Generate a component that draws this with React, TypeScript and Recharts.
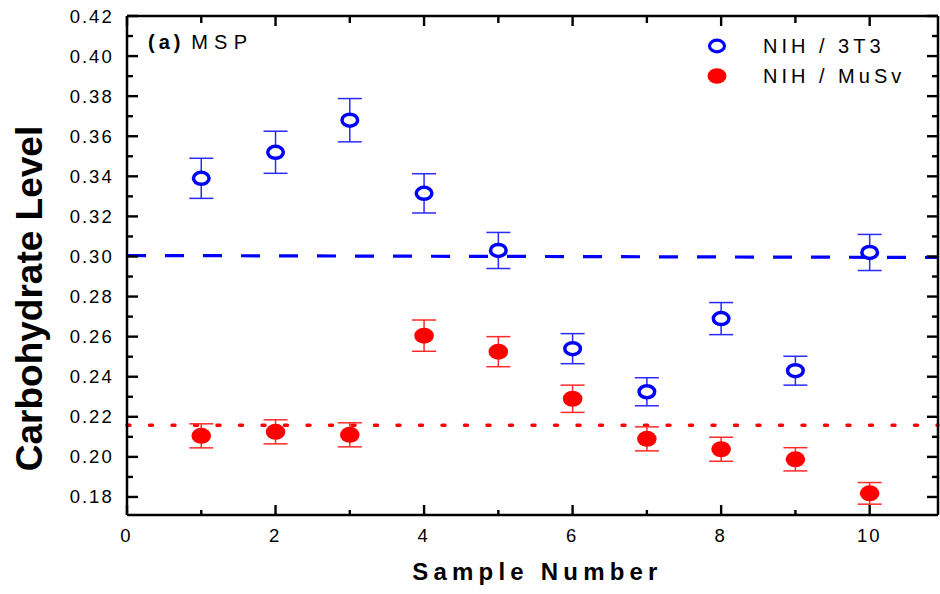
import React from 'react';
import { ScatterChart, Scatter, XAxis, YAxis, ErrorBar, ReferenceLine, Legend, Label } from 'recharts';

const samples = [1, 2, 3, 4, 5, 6, 7, 8, 9, 10];
const nih3t3 = [0.339, 0.352, 0.368, 0.3315, 0.303, 0.254, 0.2325, 0.269, 0.243, 0.302];
const nih3t3Err = [0.01, 0.0105, 0.0108, 0.0098, 0.009, 0.0075, 0.007, 0.008, 0.0072, 0.009];
const nihMusv = [0.2105, 0.2125, 0.211, 0.2605, 0.2525, 0.229, 0.209, 0.2038, 0.1988, 0.1818];
const nihMusvErr = [0.006, 0.006, 0.006, 0.0078, 0.0075, 0.0068, 0.006, 0.006, 0.0058, 0.0054];
const xTicks = [0, 1, 2, 3, 4, 5, 6, 7, 8, 9, 10];
const yTicks = [0.18, 0.19, 0.2, 0.21, 0.22, 0.23, 0.24, 0.25, 0.26, 0.27, 0.28, 0.29, 0.3, 0.31, 0.32, 0.33, 0.34, 0.35, 0.36, 0.37, 0.38, 0.39, 0.4, 0.41, 0.42];
const xDomain = [0, 10.92];
const yDomain = [0.171, 0.42];
const ref3t3Ends = [0.3005, 0.2995];
const refMusv = 0.2158;

const FONT = '"Liberation Sans", Arial, Helvetica, sans-serif';
const BLUE = '#0000ff';
const RED = '#ff0000';

const data3t3 = samples.map((s, i) => ({ x: s, y: nih3t3[i], err: nih3t3Err[i] }));
const dataMusv = samples.map((s, i) => ({ x: s, y: nihMusv[i], err: nihMusvErr[i] }));

const AXIS_LINE = { stroke: '#000', strokeWidth: 2.5 };
const TW = 2.4; // tick thickness
const TS = 1; // recharts tickSize (explicit, non-zero)
const TM = 1; // recharts tickMargin (explicit, non-zero)
const OFF = TS + TM; // distance from the tick-label anchor back to the axis line

const isMajorY = (v: number) => Math.round(v * 100) % 2 === 0;
const isMajorX = (v: number) => Math.round(v) % 2 === 0;

const YTickLeft = (props: any) => {
  const v = Number(props.payload.value);
  const ax = props.x + OFF;
  const major = isMajorY(v);
  const len = major ? 11 : 6;
  return (
    <g>
      <rect x={ax} y={props.y - TW / 2} width={len} height={TW} fill="#000" />
      {major && (
        <text x={ax - 13.3} y={props.y + 6.5} textAnchor="end" fontSize={18.5} letterSpacing={2} fontFamily={FONT} fill="#000">
          {v.toFixed(2)}
        </text>
      )}
    </g>
  );
};

const YTickRight = (props: any) => {
  const ax = props.x - OFF;
  const len = isMajorY(Number(props.payload.value)) ? 11 : 6;
  return <rect x={ax - len} y={props.y - TW / 2} width={len} height={TW} fill="#000" />;
};

const XTickBottom = (props: any) => {
  const v = Number(props.payload.value);
  const ay = props.y - OFF;
  const major = isMajorX(v);
  const len = major ? 10 : 5;
  return (
    <g>
      <rect x={props.x - TW / 2} y={ay - len} width={TW} height={len} fill="#000" />
      {major && (
        <text x={props.x - 0.5} y={ay + 26.5} textAnchor="middle" fontSize={18.5} letterSpacing={2} fontFamily={FONT} fill="#000">
          {v}
        </text>
      )}
    </g>
  );
};

const XTickTop = (props: any) => {
  const ay = props.y + OFF;
  const len = isMajorX(Number(props.payload.value)) ? 10 : 7;
  return <rect x={props.x - TW / 2} y={ay} width={TW} height={len} fill="#000" />;
};

const OpenMarker = (props: any) => (
  <ellipse cx={props.cx} cy={props.cy} rx={7.8} ry={6} fill="#fff" stroke={BLUE} strokeWidth={3.5} />
);
const FilledMarker = (props: any) => (
  <ellipse cx={props.cx} cy={props.cy} rx={9.8} ry={8} fill={RED} stroke="none" />
);

const YLabel = (props: any) => {
  const vb = props.viewBox;
  const cx = vb.x + 42;
  const cy = vb.y + vb.height / 2 + 33;
  return (
    <text x={cx} y={cy} transform={`rotate(-90 ${cx} ${cy})`} textAnchor="middle" fontSize={37} fontWeight="bold" fontFamily={FONT} fill="#000">
      Carbohydrate Level
    </text>
  );
};

const XLabel = (props: any) => {
  const vb = props.viewBox;
  const cx = vb.x + vb.width / 2 + 5;
  const cy = vb.y + 65;
  return (
    <text x={cx} y={cy} textAnchor="middle" fontSize={24} fontWeight="bold" letterSpacing={5.2} fontFamily={FONT} fill="#000">
      Sample Number
    </text>
  );
};

const LegendContent = (props: any) => {
  const { payload } = props;
  return (
    <div style={{ fontFamily: FONT, fontSize: 20, letterSpacing: 4, color: '#000' }}>
      {(payload || []).map((entry: any, i: number) => (
        <div key={i} style={{ display: 'flex', alignItems: 'center', height: 30 }}>
          <svg width={24} height={20} style={{ display: 'block' }}>
            {i === 0 ? (
              <ellipse cx={12} cy={10} rx={7.5} ry={5.8} fill="#fff" stroke={BLUE} strokeWidth={3.2} />
            ) : (
              <ellipse cx={12} cy={10} rx={9.5} ry={7.8} fill={RED} />
            )}
          </svg>
          <span style={{ marginLeft: 34, whiteSpace: 'pre' }}>{entry.value}</span>
        </div>
      ))}
    </div>
  );
};

export default function App() {
  return (
    <div style={{ position: 'absolute', left: 0, top: 0, width: 940, height: 594, background: '#fff' }}>
      <ScatterChart width={940} height={594} margin={{ top: 15, right: 1, bottom: 0, left: 0 }}>
        <XAxis xAxisId="bx" orientation="bottom" type="number" dataKey="x" domain={xDomain} ticks={xTicks} allowDataOverflow
          height={79} tickSize={TS} tickMargin={TM} tick={<XTickBottom />} tickLine={false} axisLine={AXIS_LINE} interval={0}>
          <Label content={<XLabel />} />
        </XAxis>
        <XAxis xAxisId="tx" orientation="top" type="number" dataKey="x" domain={xDomain} ticks={xTicks} allowDataOverflow
          height={1} tickSize={TS} tickMargin={TM} tick={<XTickTop />} tickLine={false} axisLine={AXIS_LINE} interval={0} />
        <YAxis yAxisId="ly" orientation="left" type="number" dataKey="y" domain={yDomain} ticks={yTicks} allowDataOverflow
          width={127} tickSize={TS} tickMargin={TM} tick={<YTickLeft />} tickLine={false} axisLine={AXIS_LINE} interval={0}>
          <Label content={<YLabel />} />
        </YAxis>
        <YAxis yAxisId="ry" orientation="right" type="number" dataKey="y" domain={yDomain} ticks={yTicks} allowDataOverflow
          width={1} tickSize={TS} tickMargin={TM} tick={<YTickRight />} tickLine={false} axisLine={AXIS_LINE} interval={0} />

        <ReferenceLine
          xAxisId="bx"
          yAxisId="ly"
          segment={[{ x: xDomain[0], y: ref3t3Ends[0] }, { x: xDomain[1], y: ref3t3Ends[1] }]}
          stroke={BLUE}
          strokeWidth={3.2}
          strokeDasharray="19 19"
        />
        <ReferenceLine xAxisId="bx" yAxisId="ly" y={refMusv} stroke={RED} strokeWidth={3.5} strokeDasharray="3 19.5" strokeLinecap="round" />
        <Legend
          layout="horizontal"
          align="center"
          verticalAlign="middle"
          content={<LegendContent />}
          wrapperStyle={{ position: 'absolute', left: 705, top: 31, width: 235 }}
        />
        <Scatter name="NIH / 3T3" data={data3t3} xAxisId="bx" yAxisId="ly" shape={<OpenMarker />} isAnimationActive={false}>
          <ErrorBar dataKey="err" direction="y" width={12} stroke="#2a2aff" strokeWidth={1.5} isAnimationActive={false} />
        </Scatter>
        <Scatter name="NIH / MuSv" data={dataMusv} xAxisId="tx" yAxisId="ry" shape={<FilledMarker />} isAnimationActive={false}>
          <ErrorBar dataKey="err" direction="y" width={12} stroke="#ff2a2a" strokeWidth={1.5} isAnimationActive={false} />
        </Scatter>
      </ScatterChart>
      <div style={{ position: 'absolute', left: 148, top: 32.4, fontFamily: FONT, fontSize: 20, lineHeight: 1, color: '#000', whiteSpace: 'pre' }}>
        <span style={{ fontWeight: 'bold', letterSpacing: 4 }}>(a)</span>
        <span style={{ letterSpacing: 6.3, marginLeft: 6.7 }}>MSP</span>
      </div>
    </div>
  );
}
